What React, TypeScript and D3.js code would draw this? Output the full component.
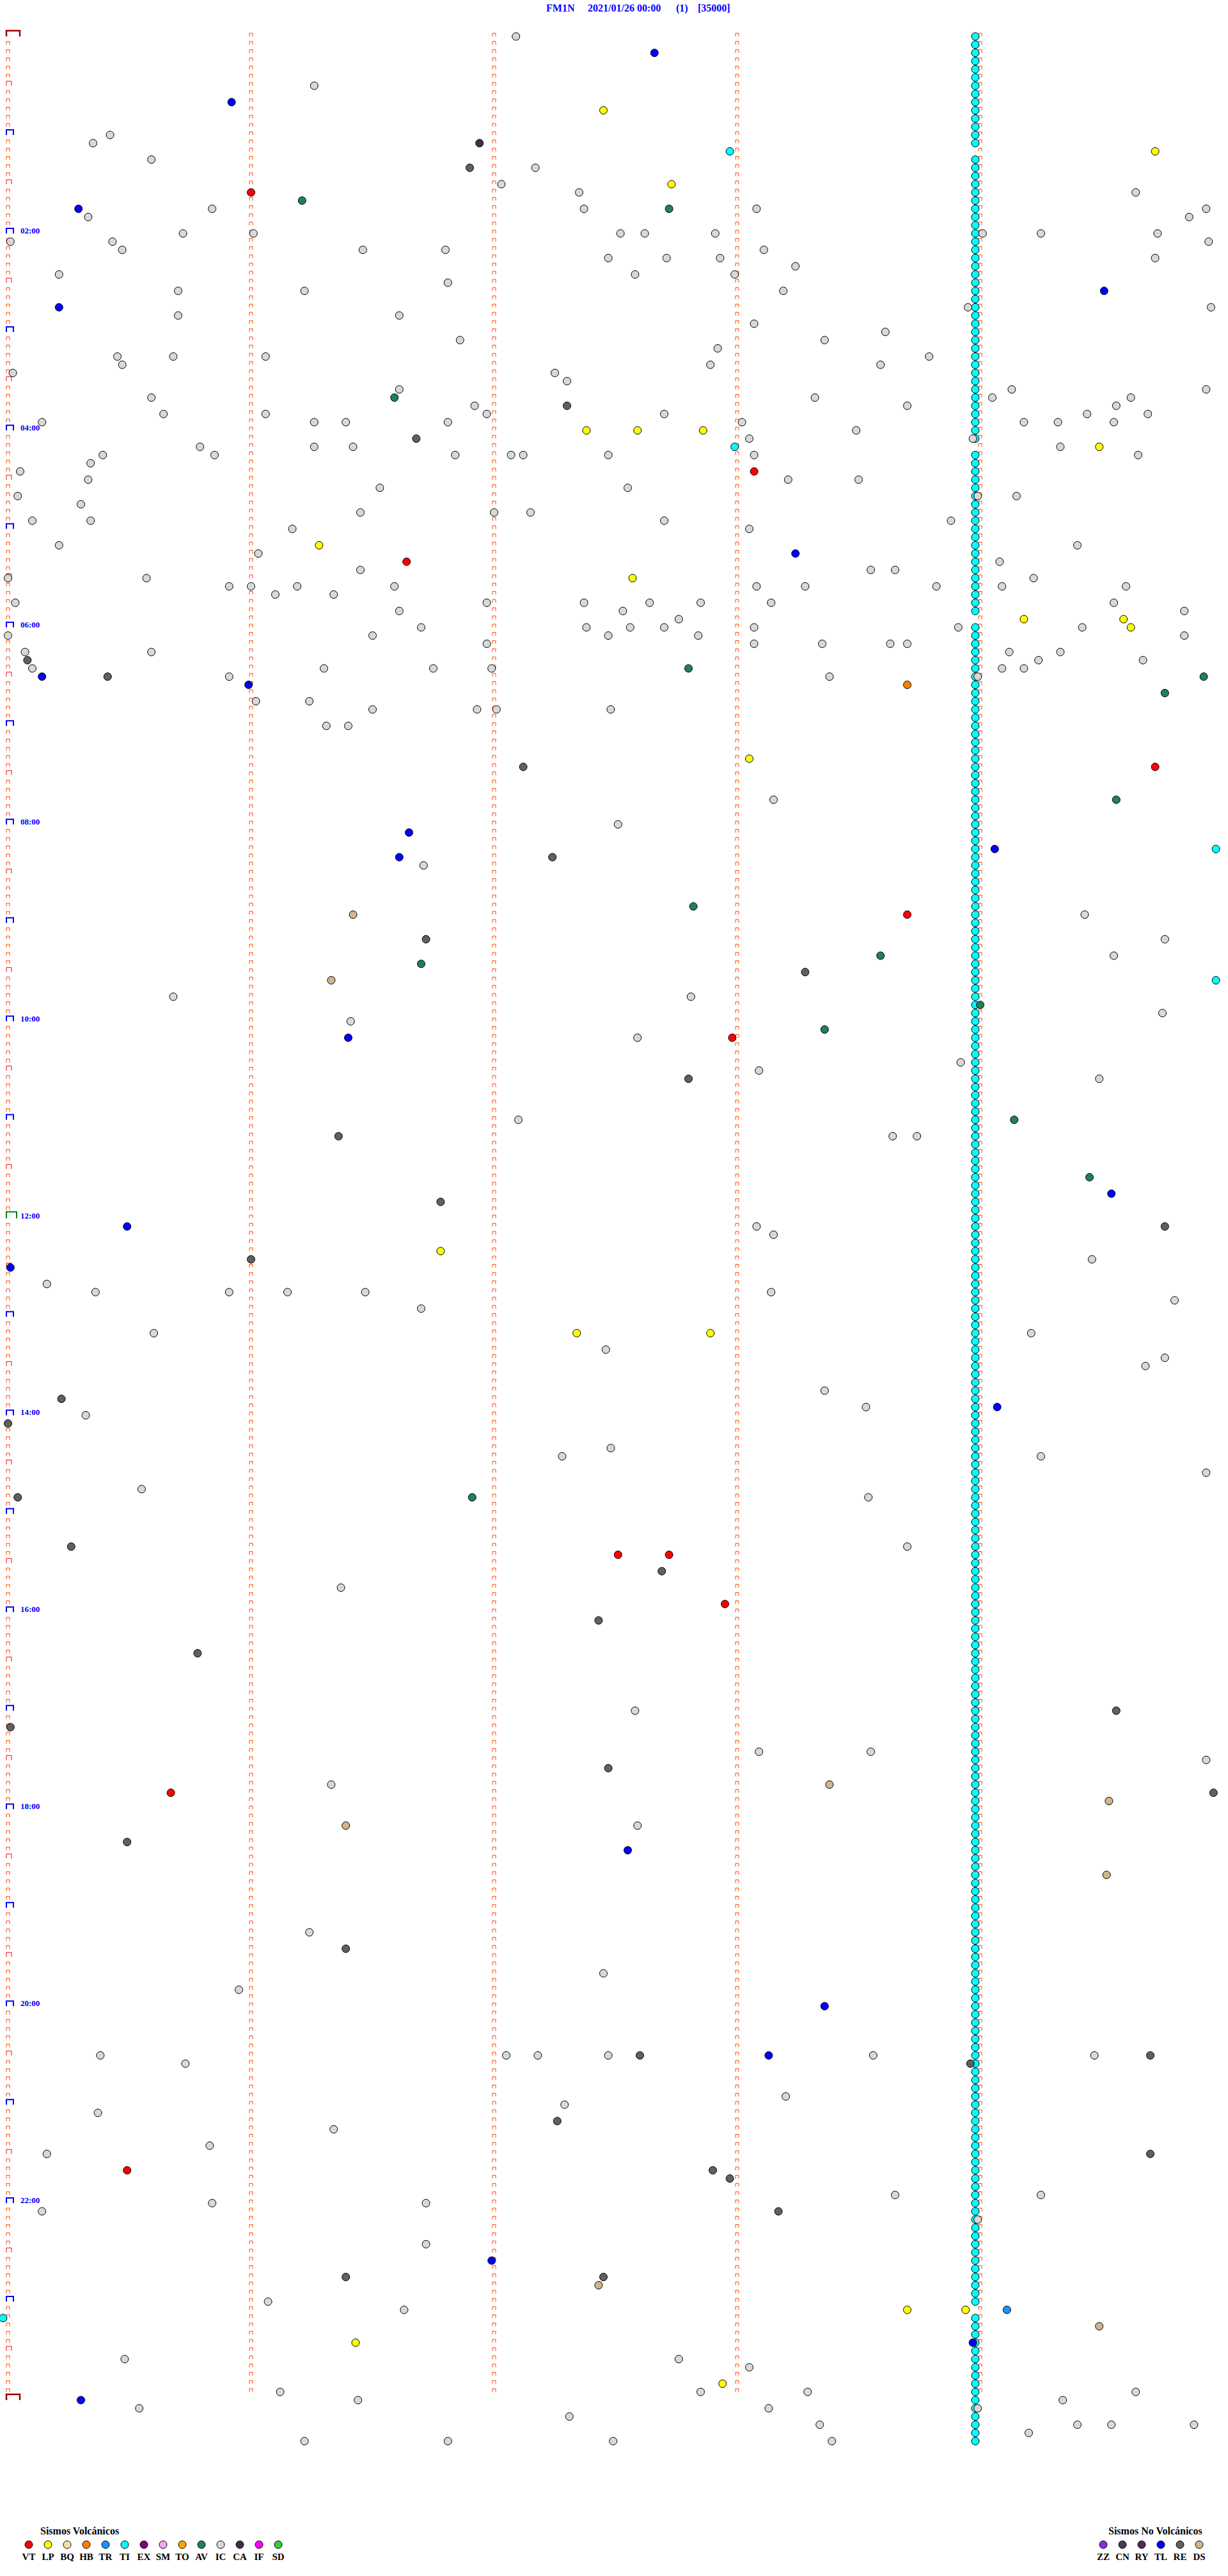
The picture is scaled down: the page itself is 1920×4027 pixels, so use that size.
import React from 'react';
import * as d3 from 'd3';

// ---------- DATA ----------
// Each event: [row (5-minute window index from 00:00), minute offset inside the window (0-5)]
const TITLE_PARTS = ['FM1N', '2021/01/26 00:00', '(1)', '[35000]'];
const HOUR_LABELS = ['02:00', '04:00', '06:00', '08:00', '10:00', '12:00', '14:00', '16:00', '18:00', '20:00', '22:00'];
const HOUR_LABEL_ROWS = [24, 48, 72, 96, 120, 144, 168, 192, 216, 240, 264];

const VOLC_CODES = ['VT', 'LP', 'BQ', 'HB', 'TR', 'TI', 'EX', 'SM', 'TO', 'AV', 'IC', 'CA', 'IF', 'SD'];
const VOLC_COLORS = ['#ff0000', '#ffff00', '#f2e2aa', '#ff8000', '#1e90ff', '#00ffff', '#800080', '#eeaaee', '#ffa500', '#1f8060', '#d8d8d8', '#4a2a4a', '#ff00ff', '#33cc33'];
const NONVOLC_CODES = ['ZZ', 'CN', 'RY', 'TL', 'RE', 'DS'];
const NONVOLC_COLORS = ['#8a2be2', '#4a3a55', '#552a55', '#0000ff', '#606060', '#d2b48c'];

// TI (cyan) events at the right column, rows where present
const TI_ROW_RANGES = [[0, 13], [15, 49], [51, 70], [72, 276], [278, 293]];
const TI_COLUMN_OFFSET = 3.98;

const VT_EVENTS = [[19, 1.0], [53, 3.07], [64, 1.64], [89, 4.72], [107, 3.7], [122, 2.98], [185, 2.51], [185, 2.72], [191, 2.95], [214, 0.67], [260, 0.49]];
const LP_EVENTS = [[9, 2.45], [14, 4.72], [18, 2.73], [48, 2.38], [48, 2.59], [48, 2.86], [50, 4.49], [62, 1.28], [66, 2.57], [71, 4.18], [71, 4.59], [72, 4.62], [88, 3.05], [148, 1.78], [158, 2.34], [158, 2.89], [277, 3.7], [277, 3.94], [281, 1.43], [286, 2.94]];
const HB_EVENTS = [[79, 3.7]];
const TR_EVENTS = [[277, 4.11]];
const TI_EVENTS = [[14, 2.97], [50, 2.99], [99, 4.97], [115, 4.97], [278, -0.02]];
const AV_EVENTS = [[20, 1.21], [21, 2.72], [44, 1.59], [77, 2.8], [78, 4.92], [80, 4.76], [93, 4.56], [106, 2.82], [112, 3.59], [113, 1.7], [118, 4.0], [121, 3.36], [132, 4.14], [139, 4.45], [178, 1.91]];
const CA_EVENTS = [[13, 1.94]];
const TL_EVENTS = [[2, 2.66], [8, 0.92], [21, 0.29], [31, 4.51], [33, 0.21], [63, 3.24], [78, 0.14], [79, 0.99], [97, 1.65], [99, 4.06], [100, 1.61], [122, 1.4], [141, 4.54], [145, 0.49], [150, 0.01], [167, 4.07], [221, 2.55], [240, 3.36], [246, 3.13], [271, 1.99], [281, 3.97], [288, 0.3]];
const RE_EVENTS = [[16, 1.9], [45, 2.3], [49, 1.68], [76, 0.08], [78, 0.41], [89, 2.12], [100, 2.24], [110, 1.72], [114, 3.28], [127, 2.8], [134, 1.36], [142, 1.78], [145, 4.76], [149, 1.0], [166, 0.22], [169, 0], [178, 0.04], [184, 0.26], [187, 2.69], [193, 2.43], [197, 0.78], [204, 4.56], [206, 0.01], [211, 2.47], [214, 4.96], [220, 0.49], [233, 1.39], [246, 2.6], [246, 4.7], [247, 3.96], [254, 2.26], [258, 4.7], [260, 2.9], [261, 2.97], [265, 3.17], [273, 1.39], [273, 2.45]];
const DS_EVENTS = [[107, 1.42], [115, 1.33], [213, 3.38], [215, 4.53], [218, 1.39], [224, 4.52], [274, 2.43], [279, 4.49]];
const IC_EVENTS = [
  [0, 2.09], [6, 1.26], [12, 0.42], [13, 0.35], [15, 0.59], [16, 2.17], [18, 2.03], [19, 2.35], [19, 4.64], [21, 0.84], [21, 2.37], [21, 3.08], [21, 4.93], [22, 0.33], [22, 4.86],
  [24, 0.72], [24, 1.01], [25, 0.01], [25, 0.43], [26, 0.47], [24, 4.01], [24, 4.25], [24, 4.73], [25, 4.94], [27, 4.72],
  [26, 1.46], [26, 1.8], [24, 2.52], [24, 2.62], [24, 2.91], [26, 3.11], [28, 3.24], [27, 2.47], [29, 2.58], [27, 2.71], [27, 2.93], [29, 0.21], [30, 1.81], [29, 2.99],
  [31, 0.7], [31, 1.22], [31, 3.19], [34, 0.7], [34, 1.61], [33, 3.95], [33, 4.95], [35, 3.07], [36, 3.61], [37, 1.86], [38, 2.92], [37, 3.36], [39, 0.45], [40, 0.47], [39, 0.68], [39, 1.06], [40, 2.89], [40, 3.59], [39, 3.79], [41, 2.25], [41, 0.02], [42, 2.3], [43, 1.61], [44, 0.59], [43, 4.13], [44, 3.32], [44, 4.05], [43, 4.93], [44, 4.62], [45, 3.7],
  [46, 0.64], [46, 1.06], [47, 1.26], [47, 1.39], [47, 1.81], [45, 1.92], [46, 1.97], [46, 2.7], [47, 3.02], [47, 4.18], [47, 4.32], [46, 4.44], [47, 4.55], [45, 4.56], [46, 4.69], [47, 0.14],
  [48, 3.49], [49, 3.97], [49, 3.05], [50, 0.79], [51, 0.85], [51, 0.39], [52, 0.34], [50, 1.26], [50, 1.42], [51, 1.84], [51, 2.07], [51, 2.12], [51, 2.47], [51, 3.07], [50, 4.33], [51, 4.65],
  [53, 0.05], [54, 0.33], [54, 3.21], [54, 3.5], [55, 1.53], [55, 2.55], [56, 3.99], [56, 4.15], [56, 0.04], [57, 0.3], [58, 1.45], [58, 2.0], [58, 2.15], [59, 0.1], [59, 0.34], [60, 1.17], [59, 2.7], [60, 3.05], [59, 3.88],
  [62, 0.21], [63, 1.03], [62, 4.4], [65, 1.45], [65, 3.55], [65, 3.65], [64, 4.08], [66, 0.57], [67, 0.91], [67, 1.0], [68, 1.1], [67, 1.19], [68, 1.34], [67, 1.59], [67, 3.08], [67, 3.28], [67, 3.82], [67, 4.09], [66, 4.22], [67, 4.6], [66, 0], [69, 0.03], [69, 2.37], [69, 1.97], [70, 1.61], [70, 2.53], [69, 2.64], [69, 2.85], [69, 3.14], [69, 4.55],
  [72, 4.42], [70, 4.84], [72, 2.38], [72, 2.56], [72, 2.7], [71, 2.76], [73, 2.84], [72, 3.07], [73, 1.5], [72, 1.7], [74, 1.97], [73, 2.47], [74, 3.35], [74, 3.63], [74, 3.7], [72, 3.91], [73, 4.84], [73, 0], [75, 0.07], [75, 0.59], [74, 3.07],
  [75, 4.12], [77, 4.09], [77, 4.18], [76, 4.24], [75, 4.33], [76, 4.67], [77, 0.1], [78, 0.91], [77, 1.3], [77, 1.75], [77, 1.99], [78, 3.38], [78, 3.99], [81, 1.02], [81, 1.24], [82, 1.93], [82, 2.01], [82, 2.48], [84, 1.31], [84, 1.4], [82, 1.5],
  [93, 3.15], [96, 2.51], [101, 1.71], [107, 4.43], [110, 4.76], [112, 4.55], [117, 0.68], [117, 2.81], [119, 4.75], [120, 1.41], [122, 2.59], [125, 3.92], [126, 3.09], [127, 4.49], [132, 2.1], [134, 3.64], [134, 3.74], [145, 3.08], [146, 3.15], [149, 4.46],
  [152, 0.16], [153, 0.36], [153, 0.91], [153, 1.15], [153, 1.47], [153, 3.14], [155, 1.7], [154, 4.8], [158, 0.6], [158, 4.21], [160, 2.46], [162, 4.68], [161, 4.76], [165, 3.36], [167, 3.53], [168, 0.32], [172, 2.48], [173, 4.25], [173, 2.28], [175, 4.93], [177, 0.55], [178, 3.54], [184, 3.7], [189, 1.37],
  [204, 2.58], [209, 3.55], [209, 3.09], [210, 4.93], [213, 1.33], [218, 2.59], [231, 1.24], [238, 0.95], [236, 2.45],
  [246, 0.38], [247, 0.73], [246, 2.05], [246, 2.18], [246, 2.47], [246, 3.56], [246, 4.47], [251, 3.2], [252, 2.29], [253, 0.37], [255, 1.34], [257, 0.83], [258, 0.16], [264, 0.84], [264, 1.72], [263, 3.65], [263, 4.25], [265, 0.14], [266, 3.99], [269, 1.72],
  [276, 1.07], [277, 1.63], [283, 0.48], [283, 2.76], [284, 3.05], [287, 2.85], [287, 1.12], [287, 3.29], [288, 4.34], [287, 4.64], [288, 1.44], [289, 0.54], [289, 3.13], [289, 3.99], [290, 2.31], [291, 3.34], [292, 4.2], [291, 4.4], [291, 4.54], [291, 4.88], [293, 1.22], [293, 1.81], [293, 2.49], [293, 3.39],
];

const EVENT_LAYERS = [
  { code: 'IC', events: IC_EVENTS },
  { code: 'RE', events: RE_EVENTS },
  { code: 'CA', events: CA_EVENTS },
  { code: 'DS', events: DS_EVENTS },
  { code: 'AV', events: AV_EVENTS },
  { code: 'HB', events: HB_EVENTS },
  { code: 'TR', events: TR_EVENTS },
  { code: 'TI', events: TI_EVENTS },
  { code: 'LP', events: LP_EVENTS },
  { code: 'VT', events: VT_EVENTS },
  { code: 'TL', events: TL_EVENTS },
];

// ---------- LAYOUT ----------
const W = 1920;
const H = 4027;
const TOTAL_ROWS = 288; // 24 h of 5-minute rows
const FONT = '"Liberation Serif", "Times New Roman", serif';

const colorOf = (code: string) => {
  const i = VOLC_CODES.indexOf(code);
  if (i >= 0) return VOLC_COLORS[i];
  return NONVOLC_COLORS[NONVOLC_CODES.indexOf(code)];
};

export default function App() {
  const x = d3.scaleLinear().domain([0, 5]).range([12.5, 1912.5]);
  const y = d3.scaleLinear().domain([0, TOTAL_ROWS]).range([57, 57 + TOTAL_ROWS * 12.83]);

  const tiRows: number[] = [];
  TI_ROW_RANGES.forEach(([a, b]) => d3.range(a, b + 1).forEach((r) => tiRows.push(r)));

  // minute brackets
  const brackets: React.ReactNode[] = [];
  for (let r = 0; r <= TOTAL_ROWS; r++) {
    const yy = y(r);
    for (let c = 0; c < 5; c++) {
      if (r === TOTAL_ROWS && c > 0) continue;
      const xx = x(c);
      let w = 5, h = 5, col = '#ff4500', sw = 1;
      if (c === 0) {
        if (r === 0 || r === TOTAL_ROWS) { w = 21; h = 9; col = '#9b0000'; sw = 2.5; }
        else if (r === 144) { w = 16; h = 10; col = '#008000'; sw = 2; }
        else if (r % 12 === 0) { w = 11; h = 8; col = '#0000ff'; sw = 2; }
        else if (r % 12 === 6) { w = 8; h = 7; col = '#ff0000'; sw = 1; }
      }
      const x0 = xx - 2.5;
      brackets.push(
        <path key={`b${r}-${c}`} d={`M${x0},${yy}V${yy - h}H${x0 + w}V${yy}`} fill="none" stroke={col} strokeWidth={sw} />
      );
    }
  }

  const legendY = 3978;
  return (
    <svg width={W} height={H} style={{ position: 'absolute', left: 0, top: 0, background: '#fff' }} fontFamily={FONT}>
      <rect width={W} height={H} fill="#ffffff" />
      <g fill="#0000ff" fontWeight="bold" fontSize={16}>
        {TITLE_PARTS.map((t, i) => (
          <text key={t} x={[854, 919, 1057, 1091][i]} y={18}>{t}</text>
        ))}
      </g>
      <g>{brackets}</g>
      <g fill="#0000ff" fontWeight="bold" fontSize={13}>
        {HOUR_LABELS.map((t, i) => (
          <text key={t} x={32} y={y(HOUR_LABEL_ROWS[i])}>{t}</text>
        ))}
      </g>
      <g>
        {tiRows.map((r) => (
          <circle key={`ti${r}`} cx={x(TI_COLUMN_OFFSET)} cy={y(r)} r={6} fill={colorOf('TI')} stroke="#000" strokeWidth={1} />
        ))}
      </g>
      {EVENT_LAYERS.map((layer) => (
        <g key={layer.code}>
          {layer.events.map(([r, m], i) => (
            <circle key={i} cx={x(m)} cy={y(r)} r={6} fill={colorOf(layer.code)} stroke="#000" strokeWidth={1} />
          ))}
        </g>
      ))}
      {/* Legends */}
      <text x={63} y={3962} fontSize={16} fontWeight="bold" fill="#000">Sismos Volcánicos</text>
      {VOLC_CODES.map((c, i) => (
        <g key={c}>
          <circle cx={45 + i * 30} cy={legendY} r={6} fill={VOLC_COLORS[i]} stroke="#000" strokeWidth={1} />
          <text x={45 + i * 30} y={4002} fontSize={15} fontWeight="bold" textAnchor="middle" fill="#000">{c}</text>
        </g>
      ))}
      <text x={1733} y={3962} fontSize={16} fontWeight="bold" fill="#000">Sismos No Volcánicos</text>
      {NONVOLC_CODES.map((c, i) => (
        <g key={c}>
          <circle cx={1725 + i * 30} cy={legendY} r={6} fill={NONVOLC_COLORS[i]} stroke="#000" strokeWidth={1} />
          <text x={1725 + i * 30} y={4002} fontSize={15} fontWeight="bold" textAnchor="middle" fill="#000">{c}</text>
        </g>
      ))}
    </svg>
  );
}
